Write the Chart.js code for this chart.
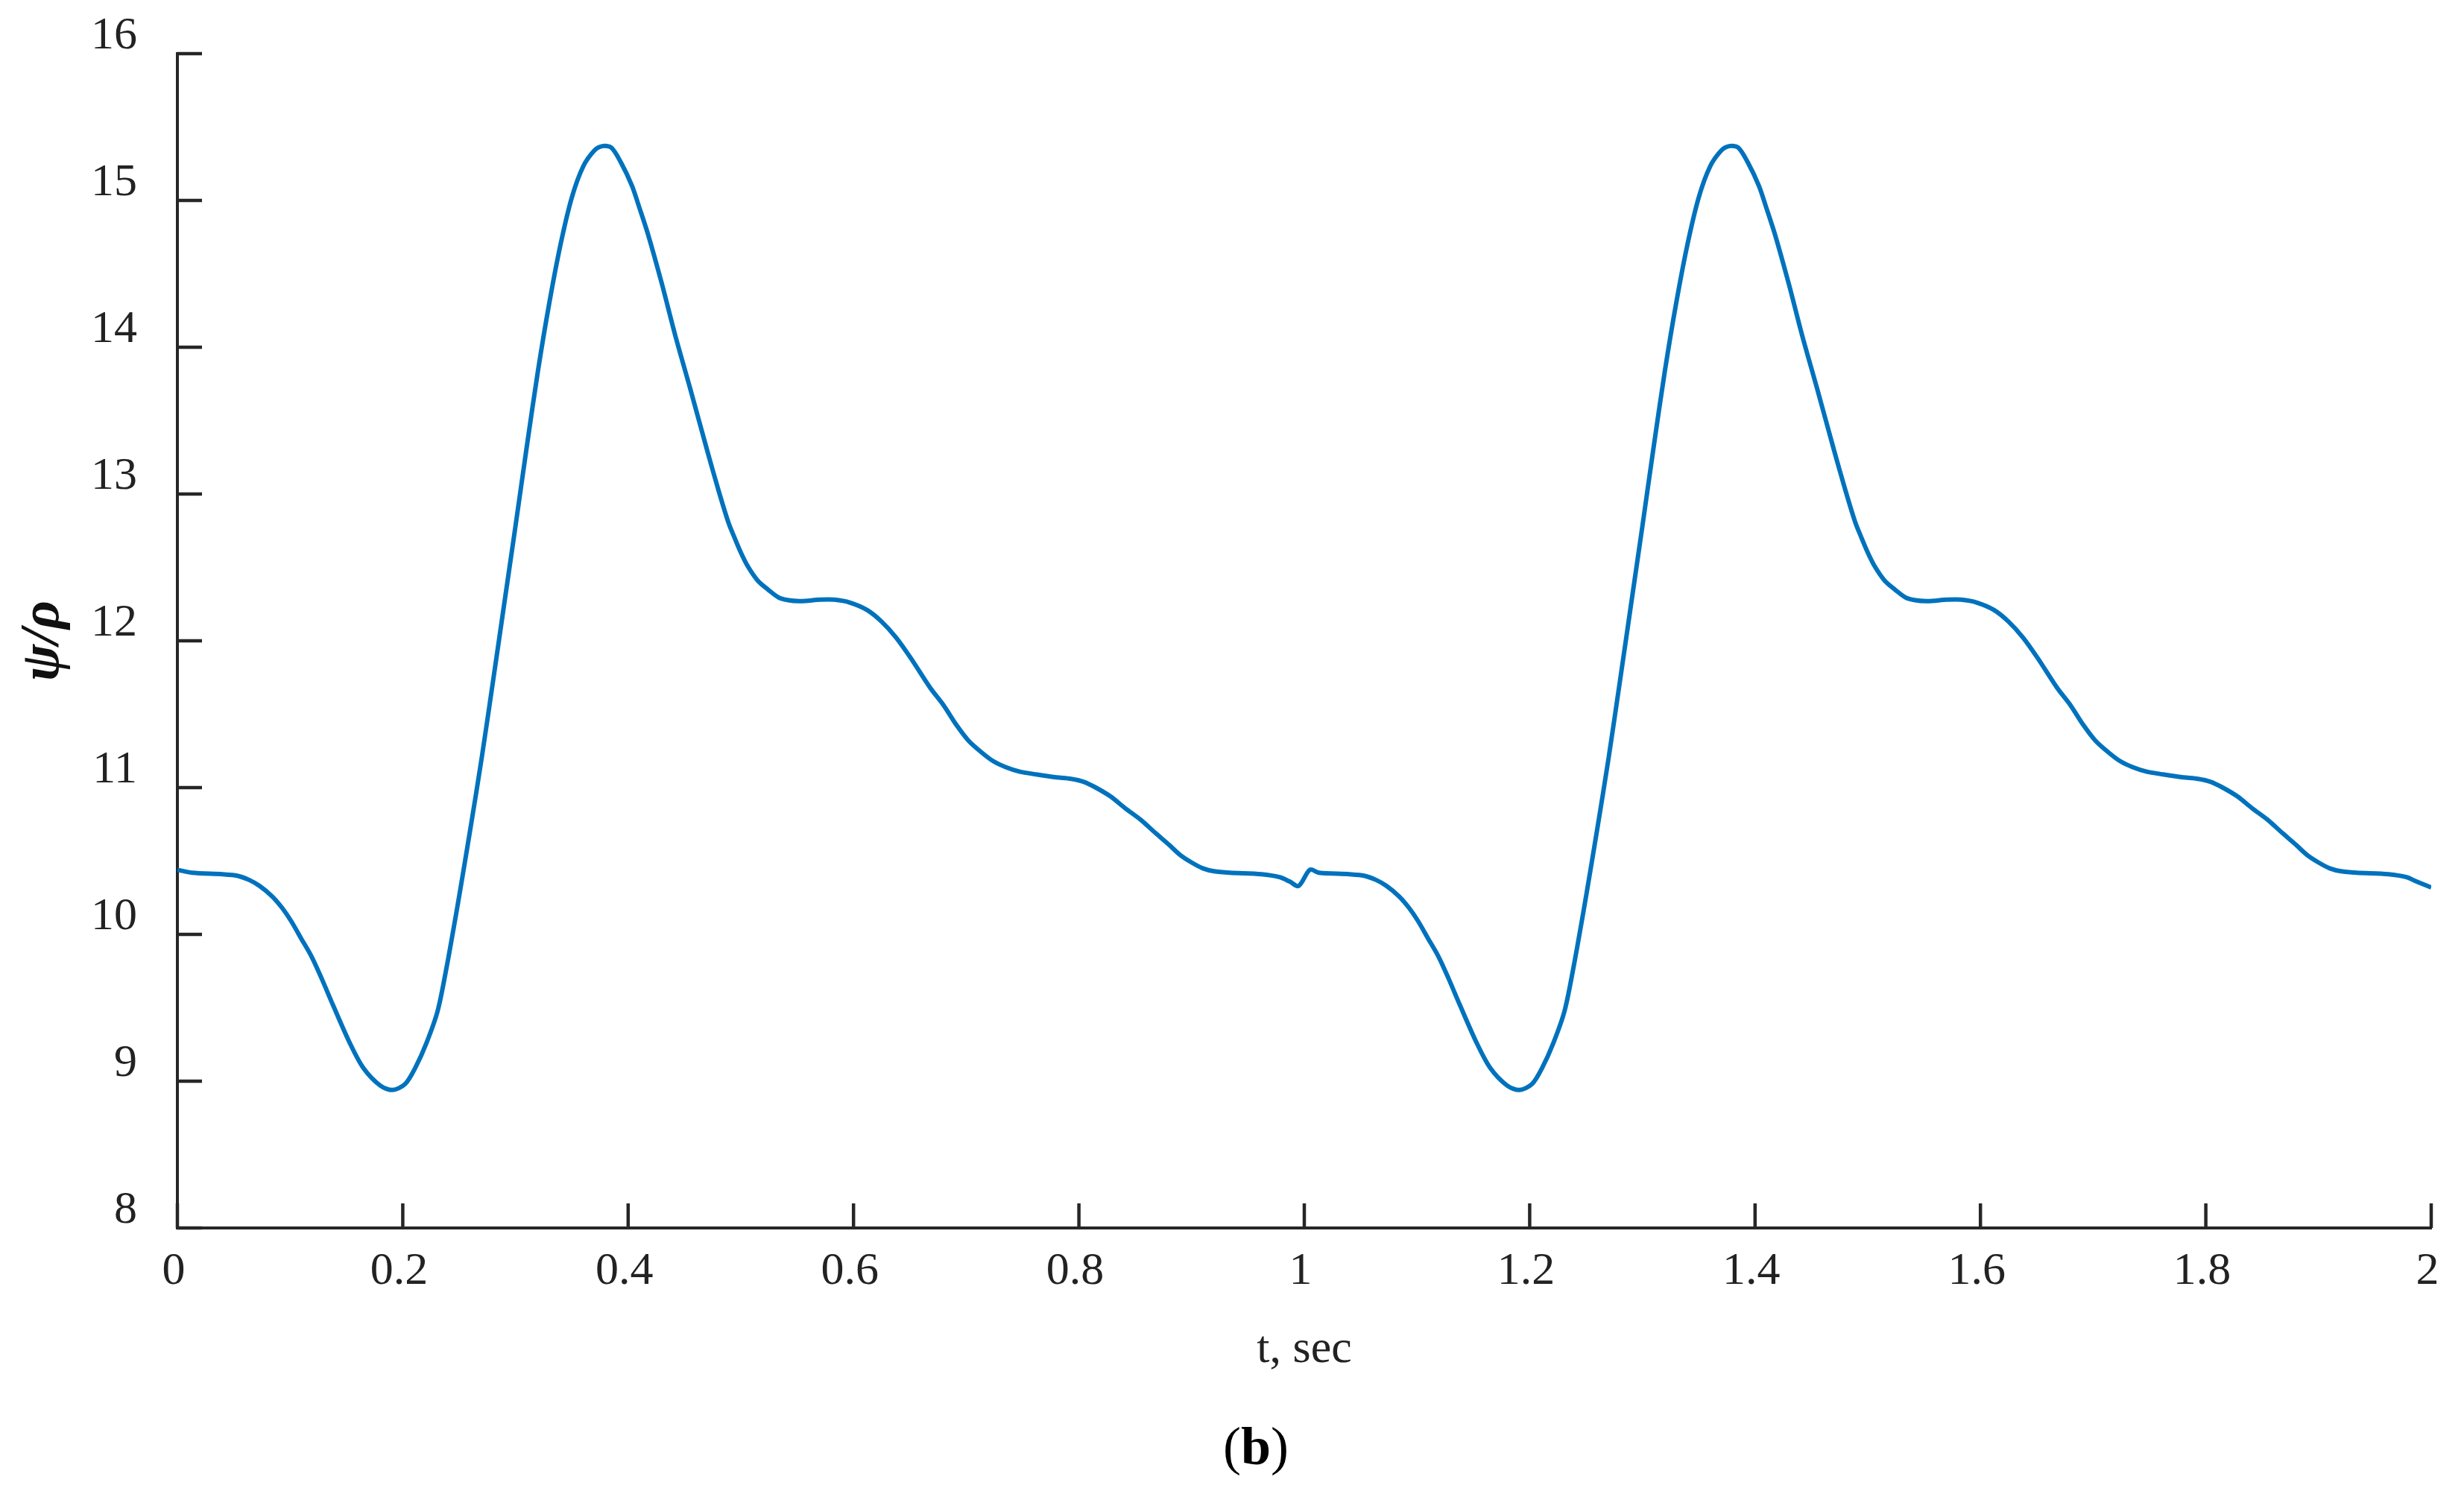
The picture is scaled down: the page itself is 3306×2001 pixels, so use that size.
<!DOCTYPE html>
<html>
<head>
<meta charset="utf-8">
<script src="https://cdn.jsdelivr.net/npm/chart.js@4"></script>
<style>
  html, body { margin: 0; padding: 0; background: #fff; }
  #wrap { position: relative; width: 3306px; height: 2001px; }
  #caption {
    position: absolute; left: 1685px; top: 1905px; transform: translateX(-50%);
    font: 72px "Liberation Serif", serif; line-height: 72px; color: #000; white-space: nowrap;
  }
</style>
</head>
<body>
<div id="wrap">
  <canvas id="chart"></canvas>
  <div id="caption">(<b>b</b>)</div>
</div>
<script>
// first period, t in sec
const timeCycle1 = [0, 0.013, 0.04, 0.053, 0.064, 0.073, 0.084, 0.093, 0.101, 0.11, 0.119, 0.128, 0.138, 0.153, 0.165, 0.18, 0.191, 0.202, 0.211, 0.221, 0.231, 0.239, 0.246, 0.2505, 0.26, 0.27, 0.28, 0.29, 0.30, 0.31, 0.32, 0.33, 0.34, 0.35, 0.36, 0.37, 0.377, 0.385, 0.3935, 0.4034, 0.41, 0.418, 0.43, 0.4418, 0.455, 0.47, 0.48, 0.4888, 0.494, 0.4995, 0.506, 0.515, 0.524, 0.535, 0.552, 0.57, 0.583, 0.597, 0.612, 0.625, 0.638, 0.651, 0.668, 0.68, 0.691, 0.702, 0.7136, 0.724, 0.735, 0.747, 0.762, 0.78, 0.793, 0.804, 0.815, 0.828, 0.841, 0.855, 0.868, 0.88, 0.89, 0.90, 0.91, 0.92, 0.934, 0.962, 0.978, 0.987, 0.995];
const psiCycle1 = [10.44, 10.42, 10.41, 10.40, 10.37, 10.33, 10.26, 10.18, 10.09, 9.97, 9.85, 9.70, 9.52, 9.26, 9.09, 8.97, 8.94, 8.98, 9.09, 9.26, 9.48, 9.78, 10.08, 10.28, 10.72, 11.20, 11.72, 12.25, 12.78, 13.32, 13.84, 14.30, 14.70, 15.02, 15.23, 15.34, 15.37, 15.36, 15.26, 15.10, 14.95, 14.76, 14.43, 14.08, 13.72, 13.30, 13.03, 12.81, 12.71, 12.61, 12.51, 12.41, 12.35, 12.29, 12.27, 12.28, 12.28, 12.26, 12.21, 12.13, 12.02, 11.88, 11.68, 11.56, 11.43, 11.32, 11.24, 11.18, 11.14, 11.11, 11.09, 11.07, 11.06, 11.04, 11.00, 10.94, 10.86, 10.78, 10.69, 10.61, 10.54, 10.49, 10.45, 10.43, 10.42, 10.41, 10.39, 10.36, 10.33];

// second period
const timeCycle2 = [1.005, 1.013, 1.04, 1.053, 1.064, 1.073, 1.084, 1.093, 1.101, 1.11, 1.119, 1.128, 1.138, 1.153, 1.165, 1.18, 1.191, 1.202, 1.211, 1.221, 1.231, 1.239, 1.246, 1.2505, 1.26, 1.27, 1.28, 1.29, 1.30, 1.31, 1.32, 1.33, 1.34, 1.35, 1.36, 1.37, 1.377, 1.385, 1.3935, 1.4034, 1.41, 1.418, 1.43, 1.4418, 1.455, 1.47, 1.48, 1.4888, 1.494, 1.4995, 1.506, 1.515, 1.524, 1.535, 1.552, 1.57, 1.583, 1.597, 1.612, 1.625, 1.638, 1.651, 1.668, 1.68, 1.691, 1.702, 1.7136, 1.724, 1.735, 1.747, 1.762, 1.78, 1.793, 1.804, 1.815, 1.828, 1.841, 1.855, 1.868, 1.88, 1.89, 1.90, 1.91, 1.92, 1.934, 1.962, 1.978, 1.987, 2.0];
const psiCycle2 = [10.44, 10.42, 10.41, 10.40, 10.37, 10.33, 10.26, 10.18, 10.09, 9.97, 9.85, 9.70, 9.52, 9.26, 9.09, 8.97, 8.94, 8.98, 9.09, 9.26, 9.48, 9.78, 10.08, 10.28, 10.72, 11.20, 11.72, 12.25, 12.78, 13.32, 13.84, 14.30, 14.70, 15.02, 15.23, 15.34, 15.37, 15.36, 15.26, 15.10, 14.95, 14.76, 14.43, 14.08, 13.72, 13.30, 13.03, 12.81, 12.71, 12.61, 12.51, 12.41, 12.35, 12.29, 12.27, 12.28, 12.28, 12.26, 12.21, 12.13, 12.02, 11.88, 11.68, 11.56, 11.43, 11.32, 11.24, 11.18, 11.14, 11.11, 11.09, 11.07, 11.06, 11.04, 11.00, 10.94, 10.86, 10.78, 10.69, 10.61, 10.54, 10.49, 10.45, 10.43, 10.42, 10.41, 10.39, 10.36, 10.32];

const xTickLabels = ["0", "0.2", "0.4", "0.6", "0.8", "1", "1.2", "1.4", "1.6", "1.8", "2"];
const yTickLabels = ["8", "9", "10", "11", "12", "13", "14", "15", "16"];

const axisColor = "#262626";
const lineColor = "#0072BD";
const serif = "'Liberation Serif', 'Times New Roman', serif";

const points = [];
timeCycle1.forEach((t, i) => points.push({ x: t, y: psiCycle1[i] }));
timeCycle2.forEach((t, i) => points.push({ x: t, y: psiCycle2[i] }));

// matlab style ticks pointing into the plot
const inwardTicks = {
    id: "inwardTicks",
    afterDatasetsDraw(chart) {
        const { ctx, chartArea, scales } = chart;
        ctx.save();
        ctx.strokeStyle = axisColor;
        ctx.lineWidth = 4.5;
        scales.x.ticks.forEach((t, i) => {
            const px = scales.x.getPixelForTick(i);
            ctx.beginPath();
            ctx.moveTo(px, chartArea.bottom);
            ctx.lineTo(px, chartArea.bottom - 33);
            ctx.stroke();
        });
        scales.y.ticks.forEach((t, i) => {
            const py = scales.y.getPixelForTick(i);
            ctx.beginPath();
            ctx.moveTo(chartArea.left, py);
            ctx.lineTo(chartArea.left + 33, py);
            ctx.stroke();
        });
        ctx.restore();
    }
};

// keep the plot box where the layout padding puts it
const noLabelPadding = (scale) => {
    scale.paddingTop = 0;
    scale.paddingBottom = 0;
    scale.paddingLeft = 0;
    scale.paddingRight = 0;
};

new Chart(document.getElementById("chart"), {
    type: "line",
    data: {
        datasets: [{
            data: points,
            borderColor: lineColor,
            borderWidth: 6,
            pointRadius: 0,
            fill: false,
            tension: 0.3
        }]
    },
    options: {
        responsive: true,
        maintainAspectRatio: false,
        animation: false,
        devicePixelRatio: 1,
        layout: { padding: { left: 0, top: 72, right: 44, bottom: 0 } },
        plugins: { legend: { display: false }, tooltip: { enabled: false } },
        scales: {
            x: {
                type: "linear",
                min: 0,
                max: 2,
                afterFit: (scale) => { scale.height = 353; noLabelPadding(scale); },
                grid: { display: true, drawOnChartArea: false, drawTicks: false, tickLength: 0 },
                border: { display: true, width: 4, color: axisColor },
                ticks: {
                    stepSize: 0.2,
                    padding: 22,
                    labelOffset: -5,
                    color: "#222",
                    font: { family: serif, size: 62 },
                    maxRotation: 0,
                    autoSkip: false,
                    callback: (v, i) => xTickLabels[i]
                },
                title: {
                    display: true,
                    text: "t, sec",
                    color: "#222",
                    font: { family: serif, size: 62 },
                    padding: { top: 0, bottom: 152 }
                }
            },
            y: {
                type: "linear",
                min: 8,
                max: 16,
                afterFit: (scale) => { scale.width = 238; noLabelPadding(scale); },
                grid: { display: true, drawOnChartArea: false, drawTicks: false, tickLength: 0 },
                border: { display: true, width: 4, color: axisColor },
                ticks: {
                    stepSize: 1,
                    padding: 54,
                    labelOffset: -23,
                    color: "#222",
                    font: { family: serif, size: 62 },
                    callback: (v, i) => yTickLabels[i]
                },
                title: {
                    display: true,
                    text: "ψ/ρ",
                    color: "#111",
                    font: { family: serif, size: 74, style: "italic", weight: "bold" },
                    padding: { top: 14, bottom: 0 }
                }
            }
        }
    },
    plugins: [inwardTicks]
});
</script>
</body>
</html>
